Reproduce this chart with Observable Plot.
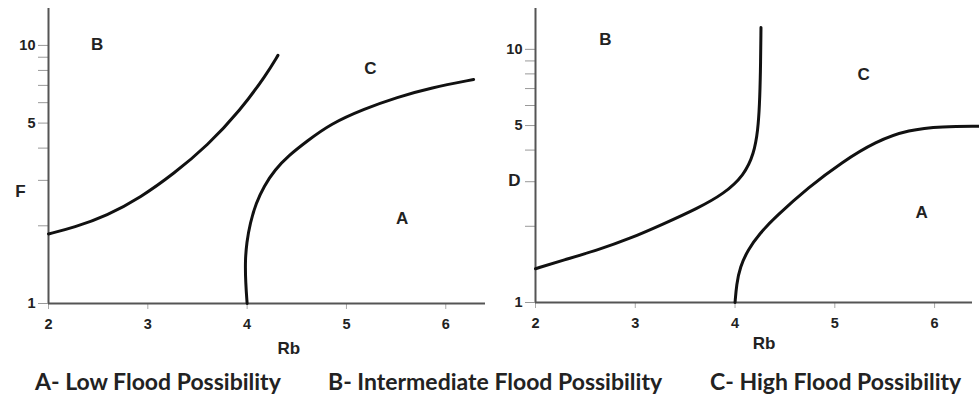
<!DOCTYPE html>
<html>
<head>
<meta charset="utf-8">
<script src="https://cdn.jsdelivr.net/npm/d3@7"></script>
<script src="https://cdn.jsdelivr.net/npm/@observablehq/plot@0.6"></script>
<style>
  html, body { margin: 0; padding: 0; background: #fff; }
  #wrap { position: relative; width: 979px; height: 398px; overflow: hidden; }
  #row { display: flex; }
  #row svg { display: block; }
  #cap { display: block; }
</style>
</head>
<body>
<div id="wrap"><div id="row"></div></div>
<script>
// ---- data ----
const xTicks = [2, 3, 4, 5, 6];
const yTicks = [1, 2, 3, 4, 5, 6, 7, 8, 9, 10];
const yTickLabels = [1, 5, 10];

// Left panel (F vs Rb)
const leftB_x = [2.00, 2.255, 2.59, 2.93, 3.26, 3.60, 3.93, 4.20, 4.31];
const leftB_y = [1.86, 1.97, 2.19, 2.58, 3.18, 4.09, 5.59, 7.77, 9.15];
const leftC_x = [4.00, 3.985, 3.98, 3.995, 4.03, 4.09, 4.17, 4.28, 4.42, 4.60, 4.84, 5.18, 5.51, 5.85, 6.28];
const leftC_y = [1.00, 1.20, 1.46, 1.72, 2.05, 2.45, 2.85, 3.30, 3.75, 4.25, 4.97, 5.68, 6.30, 6.85, 7.38];

// Right panel (D vs Rb)
const rightB_x = [2.00, 2.28, 2.62, 2.95, 3.29, 3.62, 3.89, 4.09, 4.19, 4.23, 4.245, 4.255, 4.26];
const rightB_y = [1.36, 1.47, 1.61, 1.79, 2.05, 2.35, 2.69, 3.18, 3.87, 4.82, 6.00, 8.00, 12.2];
const rightC_x = [4.00, 4.015, 4.05, 4.13, 4.25, 4.40, 4.74, 5.07, 5.41, 5.74, 6.08, 6.44];
const rightC_y = [1.00, 1.18, 1.38, 1.62, 1.88, 2.17, 2.86, 3.58, 4.33, 4.82, 4.96, 4.97];

// Region letters
const regionNames = ["B", "C", "A"];
const leftRegion_x = [2.49, 5.24, 5.56];
const leftRegion_y = [10.1, 8.14, 2.13];
const rightRegion_x = [2.70, 5.29, 5.87];
const rightRegion_y = [10.95, 7.96, 2.27];

const xLabel = "Rb";
const yLabels = ["F", "D"];
const captions = ["A- Low Flood Possibility", "B- Intermediate Flood Possibility", "C- High Flood Possibility"];

// ---- helpers ----
const zip = (xs, ys) => xs.map((x, i) => ({x, y: ys[i]}));

function panel({width, marginLeft, marginRight, marginBottom, xMax, yMax, curves, regX, regY, yLab, yLabVal, yLabDx, rbX, rbDy}) {
  const curveMarks = curves.map(c => Plot.line(c, {x: "x", y: "y", stroke: "#111", strokeWidth: 3, curve: "basis"}));
  return Plot.plot({
    width, height: 362,
    marginTop: 8, marginBottom, marginLeft, marginRight,
    style: {fontFamily: "'Liberation Sans', Arial, sans-serif", fontSize: "14.5px", background: "#fff", overflow: "visible"},
    x: {domain: [2, xMax]},
    y: {type: "log", domain: [1, yMax]},
    marks: [
      Plot.axisX({ticks: xTicks, tickSize: 6, tickPadding: 9, stroke: "#aaa", fill: "#222", fontWeight: "bold", label: null, tickFormat: d => String(d)}),
      Plot.axisY({ticks: yTicks, tickSize: 10, tickPadding: 3, stroke: "#999", fill: "#222", fontWeight: "bold", label: null,
                  tickFormat: d => yTickLabels.includes(d) ? String(d) : ""}),
      Plot.ruleX([2], {stroke: "#555", strokeWidth: 2}),
      Plot.ruleY([1], {stroke: "#555", strokeWidth: 2}),
      ...curveMarks,
      Plot.text(regionNames, {x: (d, i) => regX[i], y: (d, i) => regY[i], text: d => d, fontSize: 17, fontWeight: "bold", fill: "#222"}),
      Plot.text([yLab], {x: () => 2, y: () => yLabVal, text: d => d, dx: yLabDx, fontSize: 17, fontWeight: "bold", fill: "#222"}),
      Plot.text([xLabel], {x: () => rbX, frameAnchor: "bottom", dy: rbDy, text: d => d, fontSize: 17, fontWeight: "bold", fill: "#222"})
    ]
  });
}

const left = panel({
  width: 490, marginLeft: 48, marginRight: 5, marginBottom: 59, xMax: 6.40, yMax: 13.9,
  curves: [zip(leftB_x, leftB_y), zip(leftC_x, leftC_y)],
  regX: leftRegion_x, regY: leftRegion_y,
  yLab: yLabels[0], yLabVal: 2.71, yLabDx: -28,
  rbX: 4.42, rbDy: 50
});
const right = panel({
  width: 489, marginLeft: 45, marginRight: 7, marginBottom: 60, xMax: 6.38, yMax: 14.5,
  curves: [zip(rightB_x, rightB_y), zip(rightC_x, rightC_y)],
  regX: rightRegion_x, regY: rightRegion_y,
  yLab: yLabels[1], yLabVal: 3.03, yLabDx: -21,
  rbX: 4.29, rbDy: 46
});

const row = document.getElementById("row");
row.appendChild(left);
row.appendChild(right);

// caption line
const capX = [35, 328, 710];
const cap = d3.select("#wrap").append("svg").attr("id", "cap").attr("width", 979).attr("height", 36);
cap.selectAll("text").data(captions).join("text")
  .attr("x", (d, i) => capX[i]).attr("y", 28)
  .attr("font-family", "Lato, 'Open Sans', sans-serif")
  .attr("font-weight", "bold").attr("font-size", 23).attr("fill", "#222")
  .text(d => d);
</script>
</body>
</html>
